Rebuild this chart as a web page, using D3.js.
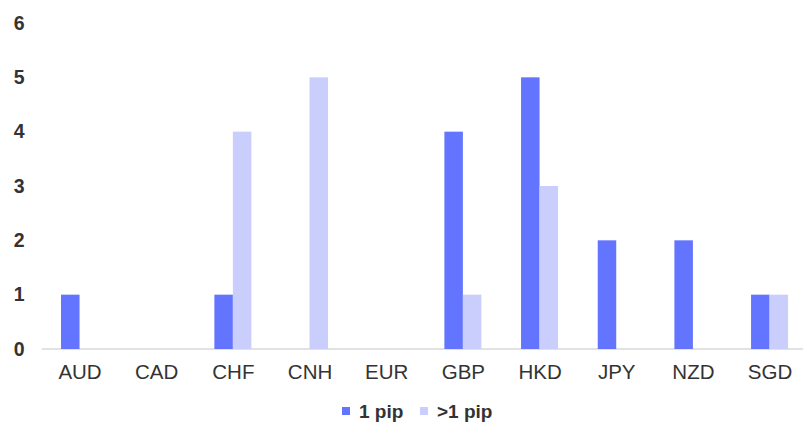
<!DOCTYPE html>
<html>
<head>
<meta charset="utf-8">
<script src="https://cdn.jsdelivr.net/npm/d3@7"></script>
<style>
  html, body { margin: 0; padding: 0; background: #fff; }
  svg { display: block; }
</style>
</head>
<body>
<svg id="chart" width="803" height="423"></svg>
<script>
const categories = ["AUD", "CAD", "CHF", "CNH", "EUR", "GBP", "HKD", "JPY", "NZD", "SGD"];
const seriesNames = ["1 pip", ">1 pip"];
const onePip = [1, 0, 1, 0, 0, 4, 5, 2, 2, 1];
const morePip = [0, 0, 4, 5, 0, 1, 3, 0, 0, 1];
const yTicks = [0, 1, 2, 3, 4, 5, 6];
const colors = ["#6374fe", "#c9cefd"];

const svg = d3.select("#chart");
const font = "'Liberation Sans', Arial, sans-serif";

const x0 = d3.scaleBand().domain(categories).range([41.7, 808.4]).padding(0);
const x1 = d3.scaleBand().domain(seriesNames).range([-19, 18]).padding(0);
const y = d3.scaleLinear().domain([0, 6]).range([349, 23]);

const data = categories.map((c, i) => ({ cat: c, values: [
  { s: seriesNames[0], v: onePip[i] },
  { s: seriesNames[1], v: morePip[i] }
]}));

// axis baseline
svg.append("line")
  .attr("x1", 41.7).attr("x2", 803)
  .attr("y1", y(0)).attr("y2", y(0))
  .attr("stroke", "#d9d9d9").attr("stroke-width", 1.5);

// bars
const g = svg.append("g");
data.forEach(d => {
  const cx = x0(d.cat) + x0.bandwidth() / 2;
  d.values.forEach((s, j) => {
    if (s.v <= 0) return;
    g.append("rect")
      .attr("x", cx + x1(s.s))
      .attr("width", x1.bandwidth())
      .attr("y", y(s.v))
      .attr("height", y(0) - y(s.v))
      .attr("fill", colors[j]);
  });
});

// y axis labels
const yAxis = d3.axisLeft(y).tickValues(yTicks).tickSize(0).tickFormat(d3.format("d"));
const ya = svg.append("g").attr("transform", "translate(24.5,0)").call(yAxis);
ya.select(".domain").remove();
ya.selectAll("text")
  .attr("x", 0).attr("text-anchor", "end")
  .attr("font-family", font).attr("font-size", 19.5).attr("font-weight", "bold")
  .attr("fill", "#333");

// x axis labels
const xAxis = d3.axisBottom(x0).tickSize(0);
const xa = svg.append("g").attr("transform", `translate(0,${y(0)})`).call(xAxis);
xa.select(".domain").remove();
xa.selectAll("text")
  .attr("y", 23).attr("dy", "0.35em")
  .attr("font-family", font).attr("font-size", 20.5)
  .attr("fill", "#333");

// legend
const legendItems = [
  { name: seriesNames[0], color: colors[0], x: 342 },
  { name: seriesNames[1], color: colors[1], x: 420 }
];
const lg = svg.append("g");
legendItems.forEach(it => {
  lg.append("rect").attr("x", it.x).attr("y", 407).attr("width", 8).attr("height", 8).attr("fill", it.color);
  lg.append("text").attr("x", it.x + 17).attr("y", 411.5).attr("dy", "0.35em")
    .attr("font-family", font).attr("font-size", 19).attr("font-weight", "bold")
    .attr("fill", "#333").text(it.name);
});
</script>
</body>
</html>
